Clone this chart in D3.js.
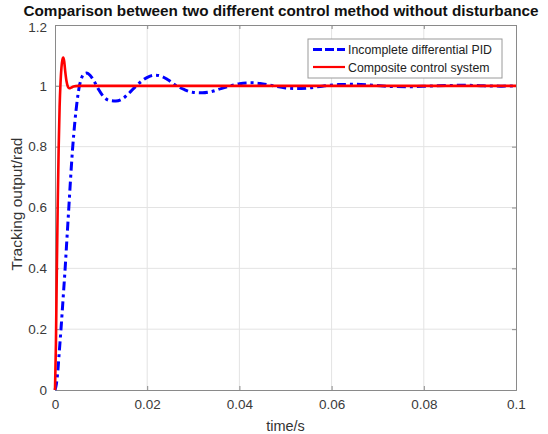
<!DOCTYPE html>
<html>
<body style="margin:0;background:#fff">
<svg></svg>
<script src="https://d3js.org/d3.v7.min.js"></script>
<script>
const width = 548, height = 434;
const margin = {left: 55, right: 32, top: 25, bottom: 44};

// composite control system (red)
const tRed = [0, 0.0002, 0.0004, 0.0006, 0.0008, 0.001, 0.0012, 0.0014, 0.0016, 0.0018, 0.002, 0.0022, 0.0025, 0.0028, 0.0031, 0.0035, 0.004, 0.005, 0.006, 0.1];
const yRed = [0, 0.15, 0.4, 0.62, 0.8, 0.93, 1.01, 1.06, 1.085, 1.093, 1.08, 1.05, 1.015, 0.997, 0.992, 0.994, 0.998, 1.0, 1.0, 1.0];

// incomplete differential PID (blue)
const tBlue = [0, 0.0003, 0.0006, 0.0009, 0.0013, 0.0018, 0.0022, 0.0026, 0.003, 0.0034, 0.0038, 0.0043, 0.0048, 0.0053, 0.0058, 0.0063, 0.0069, 0.0076, 0.0085, 0.0095, 0.0105, 0.0118, 0.0132, 0.0146, 0.016, 0.0175, 0.019, 0.0205, 0.0217, 0.023, 0.0245, 0.0264, 0.028, 0.0298, 0.032, 0.0342, 0.036, 0.038, 0.04, 0.0423, 0.0445, 0.047, 0.05, 0.0524, 0.055, 0.058, 0.0615, 0.065, 0.069, 0.073, 0.077, 0.081, 0.085, 0.089, 0.093, 0.097, 0.1];
const yBlue = [0, 0.02, 0.06, 0.12, 0.2, 0.31, 0.4, 0.5, 0.6, 0.7, 0.79, 0.88, 0.95, 1.0, 1.027, 1.039, 1.042, 1.035, 1.015, 0.987, 0.965, 0.952, 0.95, 0.957, 0.975, 0.998, 1.018, 1.031, 1.035, 1.032, 1.02, 1.0, 0.988, 0.979, 0.977, 0.982, 0.991, 1.0, 1.007, 1.01, 1.008, 1.001, 0.993, 0.991, 0.993, 0.999, 1.004, 1.005, 1.002, 0.998, 0.997, 0.999, 1.001, 1.002, 1.0, 0.999, 1.0];

const xTicks = [0, 0.02, 0.04, 0.06, 0.08, 0.1];
const xTickLabels = ["0", "0.02", "0.04", "0.06", "0.08", "0.1"];
const yTicks = [0, 0.2, 0.4, 0.6, 0.8, 1, 1.2];
const yTickLabels = ["0", "0.2", "0.4", "0.6", "0.8", "1", "1.2"];
const seriesNames = ["Incomplete differential PID", "Composite control system"];

const svg = d3.select("svg").attr("width", width).attr("height", height)
  .style("font-family", "'Liberation Sans', Arial, sans-serif");

const x = d3.scaleLinear().domain([0, 0.1]).range([margin.left, width - margin.right]);
const y = d3.scaleLinear().domain([0, 1.2]).range([height - margin.bottom, margin.top]);

// grid
svg.append("g").selectAll("line").data(xTicks.slice(1, -1)).join("line")
  .attr("x1", d => x(d)).attr("x2", d => x(d))
  .attr("y1", y(0)).attr("y2", y(1.2))
  .attr("stroke", "#e3e3e3").attr("stroke-width", 1);
svg.append("g").selectAll("line").data(yTicks.slice(1, -1)).join("line")
  .attr("y1", d => y(d)).attr("y2", d => y(d))
  .attr("x1", x(0)).attr("x2", x(0.1))
  .attr("stroke", "#e3e3e3").attr("stroke-width", 1);

// axes
const xAxis = d3.axisBottom(x).tickValues(xTicks).tickFormat((d, i) => xTickLabels[i]).tickSize(-4).tickPadding(9);
const yAxis = d3.axisLeft(y).tickValues(yTicks).tickFormat((d, i) => yTickLabels[i]).tickSize(-4).tickPadding(8);
const gx = svg.append("g").attr("transform", `translate(0,${y(0)})`).call(xAxis);
const gy = svg.append("g").attr("transform", `translate(${x(0)},0)`).call(yAxis);
const gx2 = svg.append("g").attr("transform", `translate(0,${y(1.2)})`).call(d3.axisTop(x).tickValues(xTicks).tickSize(-4).tickFormat(""));
const gy2 = svg.append("g").attr("transform", `translate(${x(0.1)},0)`).call(d3.axisRight(y).tickValues(yTicks).tickSize(-4).tickFormat(""));
[gx, gy, gx2, gy2].forEach(g => {
  g.select(".domain").attr("stroke", "#8a8a8a");
  g.selectAll(".tick line").attr("stroke", "#8a8a8a");
  g.selectAll("text").attr("fill", "#3a3a3a").style("font-size", "13.5px");
});
// nudge the top tick label down a little, away from the title
gy.selectAll(".tick text").filter(d => d === 1.2).attr("dy", "0.45em");

// lines
const line = d3.line().x(d => x(d[0])).y(d => y(d[1])).curve(d3.curveMonotoneX);
svg.append("path").datum(tBlue.map((t, i) => [t, yBlue[i]]))
  .attr("d", line).attr("fill", "none")
  .attr("stroke", "#0000ff").attr("stroke-width", 3)
  .attr("stroke-dasharray", "9,4,3,4");
svg.append("path").datum(tRed.map((t, i) => [t, yRed[i]]))
  .attr("d", line).attr("fill", "none")
  .attr("stroke", "#ff0000").attr("stroke-width", 2.6);

// legend
const lg = svg.append("g").attr("transform", "translate(308,39)");
lg.append("rect").attr("width", 194).attr("height", 39)
  .attr("fill", "#fff").attr("stroke", "#9a9a9a").attr("stroke-width", 1);
const styles = [{c: "#0000ff", dash: "9,3", w: 3}, {c: "#ff0000", dash: null, w: 2.2}];
seriesNames.forEach((name, i) => {
  const yy = 10.5 + i * 17.5;
  lg.append("line").attr("x1", 5).attr("x2", 37).attr("y1", yy).attr("y2", yy)
    .attr("stroke", styles[i].c).attr("stroke-width", styles[i].w)
    .attr("stroke-dasharray", styles[i].dash);
  lg.append("text").attr("x", 40).attr("y", yy + 4.5).text(name)
    .style("font-size", "12.3px").attr("fill", "#222");
});

// labels
svg.append("text").attr("x", 281).attr("y", 16).attr("text-anchor", "middle")
  .attr("textLength", 515).attr("lengthAdjust", "spacingAndGlyphs")
  .style("font-size", "14px").style("font-weight", "bold").attr("fill", "#111")
  .text("Comparison between two different control method without disturbance");
svg.append("text").attr("x", x(0.05)).attr("y", 431).attr("text-anchor", "middle")
  .style("font-size", "14.5px").attr("fill", "#333").text("time/s");
svg.append("text").attr("transform", `translate(22,204) rotate(-90)`)
  .attr("text-anchor", "middle").style("font-size", "15.5px").attr("fill", "#333")
  .text("Tracking output/rad");
</script>
</body>
</html>
